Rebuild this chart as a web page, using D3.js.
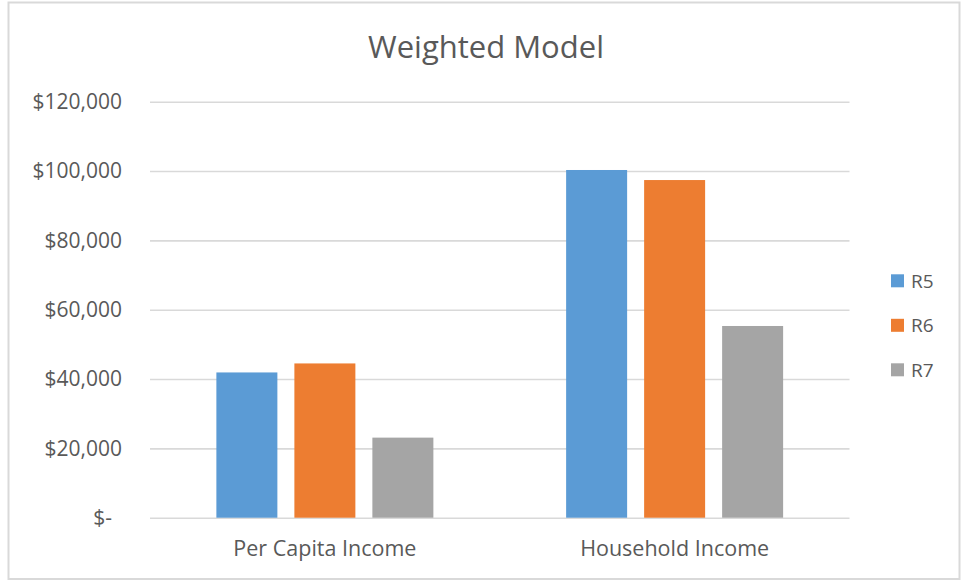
<!DOCTYPE html>
<html>
<head>
<meta charset="utf-8">
<script src="https://cdn.jsdelivr.net/npm/d3@7"></script>
<style>
  body { margin: 0; background: #fff; }
  svg text { font-family: "Open Sans", "Noto Sans", sans-serif; fill: #595959; }
</style>
</head>
<body>
<div class="chart-wrapper"></div>
<script>
var categories = ["Per Capita Income", "Household Income"];
var series = ["R5", "R6", "R7"];
var values = {
    "R5": [41900, 100300],
    "R6": [44500, 97400],
    "R7": [23100, 55300]
};
var seriesColors = ["#5B9BD5", "#ED7D31", "#A5A5A5"];
var yTicks = [0, 20000, 40000, 60000, 80000, 100000, 120000];

var width = 962, height = 583;

var svg = d3.select(".chart-wrapper").append("svg")
    .attr("width", width)
    .attr("height", height);

// chart border
svg.append("rect")
    .attr("x", 8.5).attr("y", 2.5)
    .attr("width", 951).attr("height", 576.5)
    .attr("fill", "#fff")
    .attr("stroke", "#D9D9D9")
    .attr("stroke-width", 2);

svg.append("text")
    .attr("x", 486)
    .attr("y", 58)
    .attr("text-anchor", "middle")
    .style("font-size", "31px")
    .text("Weighted Model");

var x0 = d3.scaleBand()
    .domain(categories)
    .range([150, 849.5]);

var x1 = d3.scaleBand()
    .domain(series)
    .range([0, x0.bandwidth()])
    .paddingInner(0.218)
    .paddingOuter(0.851);

var y = d3.scaleLinear()
    .domain([0, 120000])
    .range([517.7, 101.7]);

var color = d3.scaleOrdinal()
    .domain(series)
    .range(seriesColors);

// y axis + gridlines
var yAxis = svg.append("g")
    .attr("transform", "translate(150,0)")
    .call(d3.axisLeft(y)
        .tickValues(yTicks)
        .tickSize(-(849.5 - 150))
        .tickPadding(28)
        .tickFormat(function(d) { return d === 0 ? "$-" : "$" + d3.format(",")(d); }));
yAxis.select(".domain").remove();
yAxis.selectAll(".tick line")
    .attr("stroke", "#D9D9D9")
    .attr("stroke-width", 1.6);
yAxis.selectAll(".tick text")
    .style("font-size", "21px")
    .attr("fill", "#595959")
    .attr("dx", function(d) { return d === 0 ? -10 : 0; });

// bars
var groups = svg.selectAll(".cat")
    .data(categories)
    .enter().append("g")
    .attr("class", "cat")
    .attr("transform", function(d) { return "translate(" + x0(d) + ",0)"; });

groups.selectAll("rect")
    .data(function(d, i) { return series.map(function(s) { return {key: s, value: values[s][i]}; }); })
    .enter().append("rect")
    .attr("x", function(d) { return x1(d.key); })
    .attr("y", function(d) { return y(d.value); })
    .attr("width", x1.bandwidth())
    .attr("height", function(d) { return y(0) - y(d.value); })
    .attr("fill", function(d) { return color(d.key); });

// category labels
var xAxis = svg.append("g")
    .attr("transform", "translate(0," + y(0) + ")")
    .call(d3.axisBottom(x0).tickSize(0).tickPadding(23.5));
xAxis.select(".domain").remove();
xAxis.selectAll(".tick text")
    .style("font-size", "21.5px")
    .attr("fill", "#595959");

// legend
var legend = svg.selectAll(".legend")
    .data(series)
    .enter().append("g")
    .attr("class", "legend")
    .attr("transform", function(d, i) { return "translate(891," + (274.3 + i * 44.5) + ")"; });

legend.append("rect")
    .attr("width", 13)
    .attr("height", 13)
    .attr("fill", function(d) { return color(d); });

legend.append("text")
    .attr("x", 20)
    .attr("y", 13.5)
    .style("font-size", "19px")
    .text(function(d) { return d; });
</script>
</body>
</html>
